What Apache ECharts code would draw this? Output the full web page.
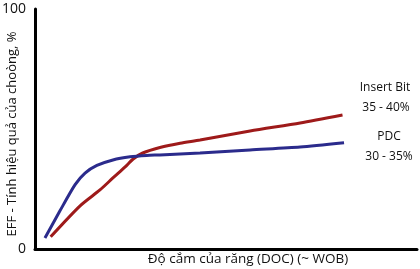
<!DOCTYPE html>
<html><head><meta charset="utf-8">
<script src="https://cdn.jsdelivr.net/npm/echarts@6/dist/echarts.min.js"></script>
<style>html,body{margin:0;padding:0;background:#fff}#c{width:420px;height:269px}</style>
</head><body><div id="c"></div>
<script>
const pdcX = [2.6, 6.5, 10.5, 13.1, 16.2, 20.4, 24.9, 29.2, 32.7, 43.2, 56.3, 69.4, 80.9];
const pdcY = [4.6, 15.8, 26.8, 31.6, 34.8, 37.1, 38.4, 39.0, 39.2, 40.0, 41.3, 42.5, 44.3];
const insertX = [4.1, 11.8, 17.0, 20.4, 23.6, 25.7, 28.2, 32.7, 38.0, 43.2, 56.3, 69.4, 80.5];
const insertY = [5.1, 18.0, 24.6, 29.6, 34.2, 37.5, 40.0, 42.3, 44.1, 45.4, 49.2, 52.5, 55.8];
const yTicks = [0, 100];
const xName = 'Độ cắm của răng (DOC) (~ WOB)';
const yName = 'EFF - Tính hiệu quả của choòng, %';
const labels = [
  {text: 'Insert Bit', x: 385, y: 88},
  {text: '35 - 40%', x: 386, y: 108},
  {text: 'PDC', x: 389, y: 137},
  {text: '30 - 35%', x: 389, y: 157}
];
const font = '"Open Sans", sans-serif';
const chart = echarts.init(document.getElementById('c'), null, {renderer: 'canvas'});
chart.setOption({
  animation: false,
  grid: {left: 35, right: 3, top: 9, bottom: 20, outerBoundsMode: 'none', containLabel: false},
  xAxis: {
    type: 'value', min: 0, max: 100,
    axisLine: {show: true, lineStyle: {color: '#000', width: 3}},
    axisTick: {show: false}, axisLabel: {show: false}, splitLine: {show: false},
    name: xName, nameLocation: 'middle', nameGap: 3, nameMoveOverlap: false,
    nameTextStyle: {fontFamily: font, fontSize: 13.5, color: '#111', padding: [0, 0, 0, 44]}
  },
  yAxis: {
    type: 'value', min: 0, max: 100, interval: 100,
    axisLine: {show: true, lineStyle: {color: '#000', width: 3}},
    axisTick: {show: false}, splitLine: {show: false},
    axisLabel: {fontFamily: font, fontSize: 14, color: '#111', margin: 9,
      formatter: v => yTicks.includes(v) ? String(v) : ''},
    name: yName, nameLocation: 'middle', nameGap: 16, nameRotate: 90, nameMoveOverlap: false,
    nameTextStyle: {fontFamily: font, fontSize: 13, color: '#111', padding: [0, 10, 0, 0]}
  },
  series: [
    {type: 'line', data: insertX.map((x, i) => [x, insertY[i]]), smooth: 0.25, symbol: 'none',
     lineStyle: {color: '#9e1a1a', width: 3}},
    {type: 'line', data: pdcX.map((x, i) => [x, pdcY[i]]), smooth: 0.25, symbol: 'none',
     lineStyle: {color: '#2b2b8c', width: 3}}
  ],
  graphic: labels.map(l => ({type: 'text', x: l.x, y: l.y,
    style: {text: l.text, font: '12px ' + font, fill: '#111', align: 'center', verticalAlign: 'middle'}}))
});
</script></body></html>
